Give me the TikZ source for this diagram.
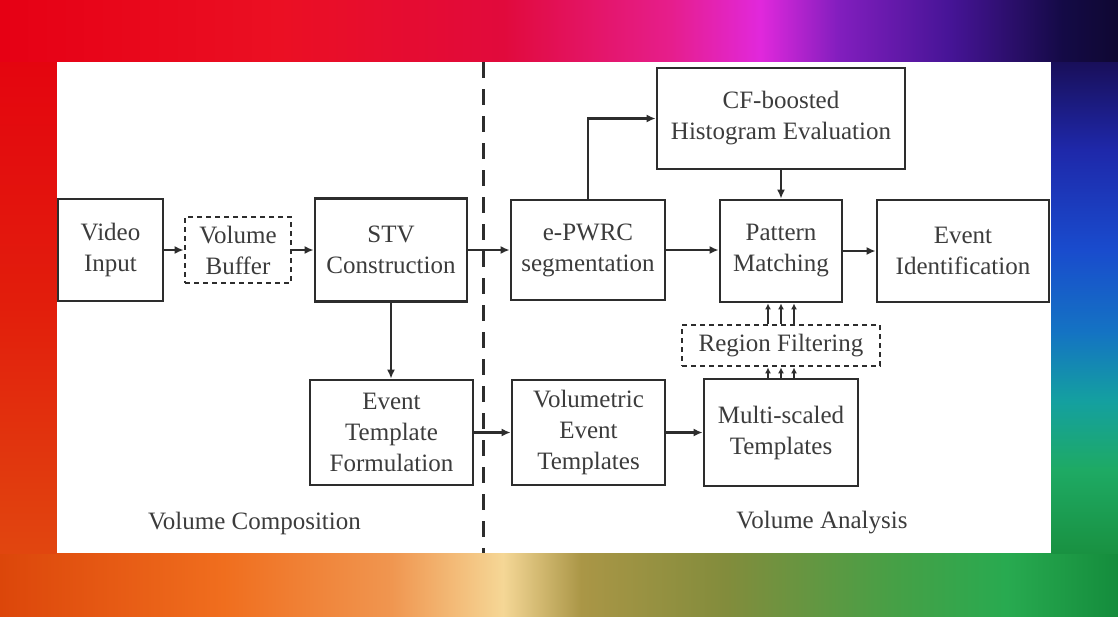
\documentclass[tikz,border=0pt]{standalone}
\usepackage{fontspec}
\setmainfont{Liberation Serif}
\usetikzlibrary{arrows.meta}
\definecolor{t0}{RGB}{230,0,20}
\definecolor{t1}{RGB}{235,15,35}
\definecolor{t2}{RGB}{225,10,60}
\definecolor{t3}{RGB}{230,30,140}
\definecolor{t4}{RGB}{225,40,220}
\definecolor{t5}{RGB}{130,30,190}
\definecolor{t6}{RGB}{70,20,150}
\definecolor{t7}{RGB}{20,10,70}
\definecolor{t8}{RGB}{15,8,50}
\definecolor{b0}{RGB}{220,70,10}
\definecolor{b1}{RGB}{240,110,30}
\definecolor{b2}{RGB}{240,150,80}
\definecolor{b3}{RGB}{245,215,150}
\definecolor{b4}{RGB}{170,150,70}
\definecolor{b5}{RGB}{130,140,60}
\definecolor{b6}{RGB}{70,160,70}
\definecolor{b7}{RGB}{40,170,80}
\definecolor{b8}{RGB}{20,140,60}
\definecolor{l0}{RGB}{228,5,15}
\definecolor{l1}{RGB}{226,30,12}
\definecolor{l2}{RGB}{225,70,15}
\definecolor{r0}{RGB}{25,15,90}
\definecolor{r1}{RGB}{30,40,170}
\definecolor{r2}{RGB}{25,75,205}
\definecolor{r3}{RGB}{20,115,195}
\definecolor{r4}{RGB}{20,160,160}
\definecolor{r5}{RGB}{30,170,100}
\definecolor{r6}{RGB}{25,145,65}
\definecolor{boxc}{RGB}{45,45,45}
\definecolor{txtc}{RGB}{60,60,60}
\pgfdeclarehorizontalshading{topbg}{100bp}{color(0bp)=(t0); color(25bp)=(t0); color(37.5bp)=(t1); color(47.5bp)=(t2); color(55bp)=(t3); color(59bp)=(t4); color(62.5bp)=(t5); color(67.5bp)=(t6); color(72.5bp)=(t7); color(75bp)=(t8); color(100bp)=(t8)}
\pgfdeclarehorizontalshading{botbg}{100bp}{color(0bp)=(b0); color(25bp)=(b0); color(35bp)=(b1); color(42.5bp)=(b2); color(47.5bp)=(b3); color(51bp)=(b4); color(57.5bp)=(b5); color(65bp)=(b6); color(70bp)=(b7); color(75bp)=(b8); color(100bp)=(b8)}
\pgfdeclareverticalshading{leftbg}{100bp}{color(0bp)=(l2); color(25bp)=(l2); color(50bp)=(l1); color(75bp)=(l0); color(100bp)=(l0)}
\pgfdeclareverticalshading{rightbg}{100bp}{color(0bp)=(r6); color(25bp)=(r6); color(33.5bp)=(r5); color(40.5bp)=(r4); color(47.5bp)=(r3); color(56bp)=(r2); color(66bp)=(r1); color(75bp)=(r0); color(100bp)=(r0)}
\tikzset{
  box/.style={draw=boxc, line width=2.8pt, fill=white, text=txtc, align=center,
    inner sep=0pt, font=\fontsize{25}{31}\selectfont},
  dbox/.style={box, dash pattern=on 5pt off 4pt},
  arr/.style={draw=boxc, line width=2.2pt, -{Latex[length=9pt,width=8pt]}},
  sarr/.style={draw=boxc, line width=2pt, -{Latex[length=6pt,width=6pt]}},
  lbl/.style={text=txtc, font=\fontsize{25}{31}\selectfont, inner sep=0pt}
}
\begin{document}
\begin{tikzpicture}[x=1pt,y=-1pt]
\useasboundingbox (0,0) rectangle (1118,616);
% background
\shade[shading=topbg] (0,0) rectangle (1118,62);
\shade[shading=botbg] (0,553) rectangle (1118,616);
\shade[shading=leftbg] (0,62) rectangle (57,553);
\shade[shading=rightbg] (1051,62) rectangle (1118,553);
\fill[white] (57,62) rectangle (1051,553);
% divider
\coordinate (dtop) at (483,62);
\coordinate (dbot) at (483,553);
\draw[boxc, line width=3pt, dash pattern=on 16pt off 11pt] (dtop) -- (dbot);
% nodes
\node[box, minimum width=105pt, minimum height=102pt] (vi) at (110.5,250) {Video\\Input};
\node[dbox, minimum width=106pt, minimum height=66pt] (vb) at (238,250) {Volume\\Buffer};
\node[box, minimum width=152pt, minimum height=103pt] (stv) at (391,250) {STV\\Construction};
\node[box, minimum width=154pt, minimum height=100pt] (ep) at (588,250) {e-PWRC\\segmentation};
\node[box, minimum width=248pt, minimum height=101pt] (cf) at (781,118.5) {CF-boosted\\Histogram Evaluation};
\node[box, minimum width=122pt, minimum height=102pt] (pm) at (781,251) {Pattern\\Matching};
\node[box, minimum width=172pt, minimum height=102pt] (ei) at (963,251) {Event\\Identification};
\node[dbox, minimum width=198pt, minimum height=41pt] (rf) at (781,345.5) {Region Filtering};
\node[box, minimum width=163pt, minimum height=105pt] (etf) at (391.5,432.5) {Event\\Template\\Formulation};
\node[box, minimum width=153pt, minimum height=105pt] (vet) at (588.5,432.5) {Volumetric\\Event\\Templates};
\node[box, minimum width=154pt, minimum height=107pt] (ms) at (781,432.5) {Multi-scaled\\Templates};
\node[lbl] (vc) at (254.5,523) {Volume Composition};
\node[lbl] (va) at (822,523) {Volume Analysis};
% connectors
\draw[arr] (vi.east) -- (vb.west);
\draw[arr] (vb.east) -- (stv.west);
\draw[arr] (stv.east) -- (ep.west |- stv.east);
\draw[arr] (ep.north) |- (cf.west);
\draw[arr] (cf.south) -- (pm.north);
\draw[arr] (ep.east) -- (pm.west |- ep.east);
\draw[arr] (pm.east) -- (ei.west);
\draw[arr] (stv.south) -- (stv.south |- etf.north);
\draw[arr] (etf.east) -- (vet.west);
\draw[arr] (vet.east) -- (ms.west);
\foreach \dx in {-13,0,13}{
  \draw[sarr] ([xshift=\dx pt]rf.north) -- ([xshift=\dx pt]rf.north |- pm.south);
  \draw[sarr] ([xshift=\dx pt]ms.north) -- ([xshift=\dx pt]ms.north |- rf.south);
}
\end{tikzpicture}
\end{document}
